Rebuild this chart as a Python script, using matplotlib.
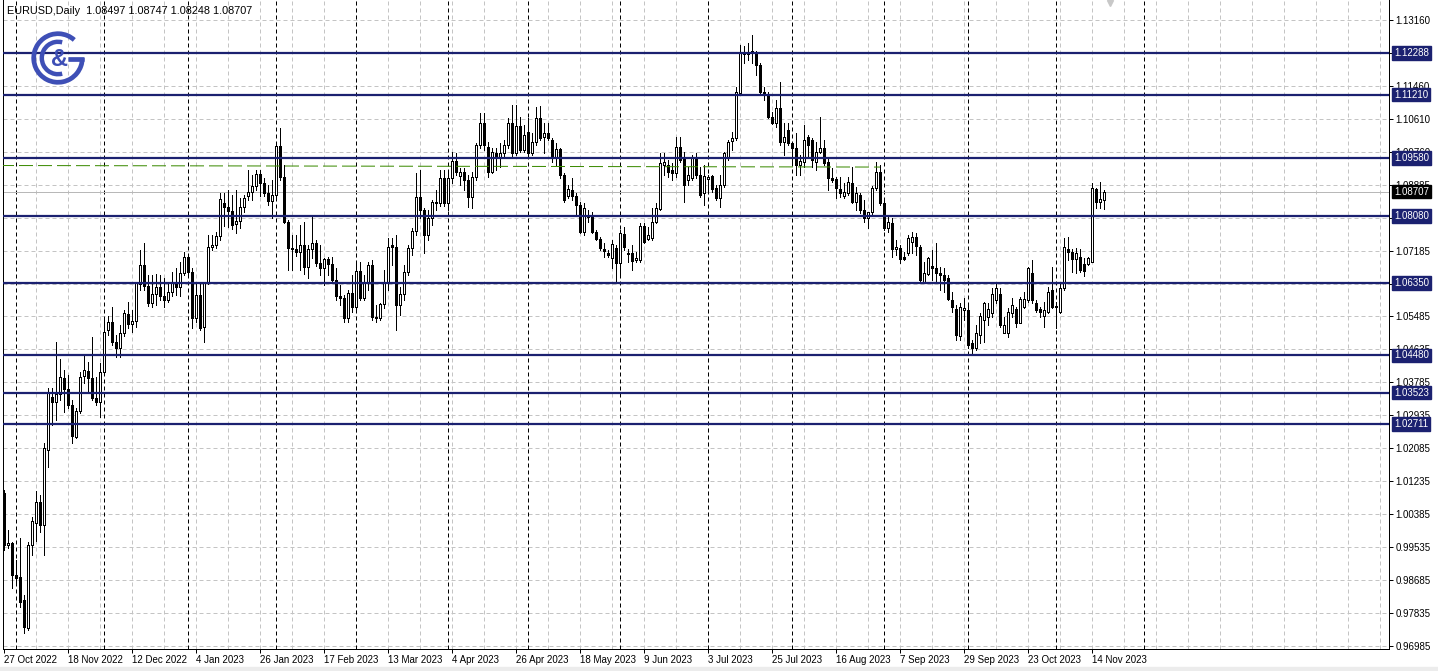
import numpy as np
import matplotlib
matplotlib.use('Agg')
import matplotlib.pyplot as plt
from matplotlib.patches import Arc, Rectangle
from matplotlib.transforms import blended_transform_factory

plt.rcParams['font.family'] = ['Liberation Sans', 'DejaVu Sans']

# EURUSD daily bars, 27 Oct 2022 .. 17 Nov 2023
opens = [
    1.0093, 0.9959, 0.9964, 0.9881, 0.9876, 0.9817, 0.9745, 0.9959, 1.0016, 1.0070,
    1.0011, 1.0204, 1.0341, 1.0328, 1.0348, 1.0390, 1.0361, 1.0320, 1.0237, 1.0305,
    1.0395, 1.0408, 1.0390, 1.0338, 1.0328, 1.0405, 1.0514, 1.0534, 1.0483, 1.0467,
    1.0506, 1.0555, 1.0529, 1.0537, 1.0632, 1.0681, 1.0627, 1.0583, 1.0606, 1.0625,
    1.0601, 1.0591, 1.0612, 1.0637, 1.0625, 1.0661, 1.0702, 1.0663, 1.0545, 1.0604,
    1.0521, 1.0635, 1.0728, 1.0733, 1.0756, 1.0841, 1.0831, 1.0821, 1.0787, 1.0795,
    1.0831, 1.0859, 1.0870, 1.0885, 1.0916, 1.0893, 1.0867, 1.0846, 1.0862, 1.0988,
    1.0908, 1.0792, 1.0725, 1.0723, 1.0715, 1.0733, 1.0676, 1.0723, 1.0738, 1.0686,
    1.0674, 1.0697, 1.0684, 1.0643, 1.0601, 1.0596, 1.0545, 1.0609, 1.0573, 1.0666,
    1.0596, 1.0637, 1.0681, 1.0547, 1.0545, 1.0581, 1.0637, 1.0733, 1.0728, 1.0578,
    1.0606, 1.0663, 1.0725, 1.0769, 1.0857, 1.0823, 1.0759, 1.0803, 1.0844, 1.0841,
    1.0906, 1.0841, 1.0906, 1.0950, 1.0911, 1.0921, 1.0901, 1.0857, 1.0908, 1.0991,
    1.1048, 1.0986, 1.0921, 1.0970, 1.0957, 1.0970, 1.0991, 1.1048, 1.0970, 1.1040,
    1.0978, 1.1024, 1.0970, 1.0999, 1.1061, 1.1012, 1.1022, 1.1004, 1.0957, 1.0981,
    1.0914, 1.0859, 1.0875, 1.0859, 1.0836, 1.0766, 1.0805, 1.0805, 1.0766, 1.0748,
    1.0723, 1.0712, 1.0699, 1.0725, 1.0686, 1.0761, 1.0712, 1.0712, 1.0694, 1.0694,
    1.0782, 1.0748, 1.0751, 1.0792, 1.0826, 1.0939, 1.0939, 1.0926, 1.0919, 1.0986,
    1.0957, 1.0901, 1.0906, 1.0960, 1.0914, 1.0867, 1.0903, 1.0911, 1.0880, 1.0854,
    1.0888, 1.0957, 1.1001, 1.1009, 1.1125, 1.1226, 1.1226, 1.1228, 1.1228, 1.1197,
    1.1128, 1.1122, 1.1063, 1.1048, 1.1086, 1.0999, 1.1030, 1.0996, 1.0983, 1.0939,
    1.0947, 1.1012, 1.1004, 1.0947, 1.0973, 1.0983, 1.0947, 1.0906, 1.0903, 1.0877,
    1.0859, 1.0867, 1.0893, 1.0844, 1.0862, 1.0823, 1.0803, 1.0818, 1.0880, 1.0921,
    1.0841, 1.0777, 1.0790, 1.0723, 1.0725, 1.0702, 1.0712, 1.0741, 1.0754, 1.0728,
    1.0635, 1.0658, 1.0679, 1.0674, 1.0661, 1.0656, 1.0648, 1.0591, 1.0568, 1.0498,
    1.0565, 1.0565, 1.0480, 1.0467, 1.0501, 1.0539, 1.0547, 1.0557, 1.0591, 1.0606,
    1.0506, 1.0506, 1.0557, 1.0568, 1.0532, 1.0573, 1.0591, 1.0661, 1.0583, 1.0568,
    1.0550, 1.0560, 1.0617, 1.0573, 1.0560, 1.0622, 1.0723, 1.0715, 1.0697, 1.0702,
    1.0684, 1.0684, 1.0689, 1.0877, 1.0844, 1.08497]
highs = [
    1.0101, 0.9998, 0.9967, 0.9920, 0.9977, 0.9830, 0.9967, 1.0031, 1.0098, 1.0088,
    1.0222, 1.0364, 1.0364, 1.0483, 1.0439, 1.0410, 1.0398, 1.0333, 1.0312, 1.0405,
    1.0449, 1.0431, 1.0496, 1.0392, 1.0428, 1.0545, 1.0550, 1.0573, 1.0501, 1.0526,
    1.0565, 1.0586, 1.0565, 1.0637, 1.0720, 1.0738, 1.0656, 1.0656, 1.0658, 1.0656,
    1.0648, 1.0635, 1.0663, 1.0674, 1.0689, 1.0715, 1.0707, 1.0674, 1.0635, 1.0637,
    1.0637, 1.0759, 1.0759, 1.0766, 1.0867, 1.0867, 1.0875, 1.0862, 1.0875, 1.0854,
    1.0862, 1.0926, 1.0914, 1.0926, 1.0926, 1.0906, 1.0888, 1.0901, 1.0996, 1.1035,
    1.0939, 1.0797, 1.0759, 1.0759, 1.0785, 1.0792, 1.0733, 1.0805, 1.0746, 1.0733,
    1.0699, 1.0702, 1.0702, 1.0674, 1.0630, 1.0604, 1.0617, 1.0656, 1.0689, 1.0689,
    1.0656, 1.0689, 1.0694, 1.0578, 1.0583, 1.0669, 1.0751, 1.0751, 1.0759, 1.0625,
    1.0681, 1.0733, 1.0777, 1.0919, 1.0926, 1.0828, 1.0823, 1.0849, 1.0875, 1.0926,
    1.0926, 1.0926, 1.0973, 1.0970, 1.0931, 1.0931, 1.0914, 1.0921, 1.0996, 1.1073,
    1.1073, 1.0999, 1.0983, 1.0983, 1.0996, 1.1004, 1.1061, 1.1094, 1.1094, 1.1063,
    1.1043, 1.1061, 1.1022, 1.1089, 1.1092, 1.1048, 1.1048, 1.1009, 1.0996, 1.0983,
    1.0919, 1.0888, 1.0906, 1.0867, 1.0844, 1.0841, 1.0823, 1.0818, 1.0772, 1.0754,
    1.0738, 1.0720, 1.0746, 1.0733, 1.0772, 1.0779, 1.0723, 1.0733, 1.0715, 1.0790,
    1.0790, 1.0779, 1.0828, 1.0841, 1.0970, 1.0970, 1.0952, 1.0944, 1.1012, 1.1012,
    1.0973, 1.0934, 1.0965, 1.0970, 1.0934, 1.0939, 1.0914, 1.0914, 1.0888, 1.0914,
    1.0973, 1.1004, 1.1024, 1.1141, 1.1249, 1.1246, 1.1254, 1.1275, 1.1233, 1.1202,
    1.1141, 1.1128, 1.1076, 1.1107, 1.1153, 1.1048, 1.1048, 1.0999, 1.1022, 1.0965,
    1.1043, 1.1017, 1.1009, 1.0999, 1.1063, 1.1004, 1.0957, 1.0931, 1.0908, 1.0908,
    1.0893, 1.0908, 1.0934, 1.0883, 1.0867, 1.0849, 1.0818, 1.0885, 1.0947, 1.0939,
    1.0849, 1.0805, 1.0803, 1.0746, 1.0733, 1.0715, 1.0759, 1.0766, 1.0764, 1.0733,
    1.0689, 1.0702, 1.0720, 1.0738, 1.0676, 1.0674, 1.0656, 1.0612, 1.0578, 1.0583,
    1.0596, 1.0578, 1.0488, 1.0526, 1.0557, 1.0586, 1.0583, 1.0622, 1.0637, 1.0622,
    1.0547, 1.0570, 1.0596, 1.0573, 1.0599, 1.0612, 1.0676, 1.0694, 1.0591, 1.0573,
    1.0586, 1.0625, 1.0676, 1.0586, 1.0637, 1.0751, 1.0754, 1.0723, 1.0725, 1.0723,
    1.0699, 1.0702, 1.0893, 1.0880, 1.0895, 1.08747]
lows = [
    0.9946, 0.9951, 0.9848, 0.9856, 0.9799, 0.9732, 0.9740, 0.9933, 0.9969, 0.9993,
    0.9933, 1.0160, 1.0268, 1.0281, 1.0333, 1.0302, 1.0312, 1.0222, 1.0235, 1.0300,
    1.0377, 1.0354, 1.0333, 1.0320, 1.0289, 1.0398, 1.0501, 1.0475, 1.0444, 1.0444,
    1.0498, 1.0519, 1.0508, 1.0521, 1.0617, 1.0617, 1.0576, 1.0573, 1.0578, 1.0591,
    1.0573, 1.0586, 1.0601, 1.0604, 1.0601, 1.0656, 1.0653, 1.0519, 1.0534, 1.0514,
    1.0483, 1.0632, 1.0720, 1.0725, 1.0746, 1.0782, 1.0779, 1.0774, 1.0764, 1.0777,
    1.0818, 1.0849, 1.0849, 1.0875, 1.0859, 1.0859, 1.0836, 1.0803, 1.0857, 1.0901,
    1.0790, 1.0669, 1.0669, 1.0705, 1.0669, 1.0658, 1.0648, 1.0699, 1.0679, 1.0656,
    1.0630, 1.0656, 1.0637, 1.0591, 1.0578, 1.0534, 1.0534, 1.0560, 1.0565, 1.0591,
    1.0591, 1.0617, 1.0539, 1.0534, 1.0539, 1.0570, 1.0617, 1.0681, 1.0514, 1.0552,
    1.0591, 1.0656, 1.0707, 1.0759, 1.0803, 1.0712, 1.0746, 1.0785, 1.0823, 1.0834,
    1.0834, 1.0823, 1.0893, 1.0914, 1.0888, 1.0875, 1.0831, 1.0828, 1.0901, 1.0983,
    1.0978, 1.0908, 1.0919, 1.0926, 1.0934, 1.0957, 1.0983, 1.0963, 1.0965, 1.0973,
    1.0973, 1.0965, 1.0965, 1.0991, 1.1004, 1.0970, 1.1004, 1.0947, 1.0939, 1.0906,
    1.0844, 1.0854, 1.0849, 1.0810, 1.0764, 1.0759, 1.0792, 1.0764, 1.0746, 1.0720,
    1.0702, 1.0702, 1.0674, 1.0635, 1.0656, 1.0720, 1.0689, 1.0669, 1.0689, 1.0689,
    1.0738, 1.0746, 1.0746, 1.0790, 1.0823, 1.0914, 1.0908, 1.0901, 1.0908, 1.0947,
    1.0844, 1.0888, 1.0901, 1.0906, 1.0857, 1.0836, 1.0867, 1.0870, 1.0849, 1.0831,
    1.0883, 1.0952, 1.0978, 1.1004, 1.1125, 1.1203, 1.1210, 1.1203, 1.1171, 1.1120,
    1.1107, 1.1061, 1.1045, 1.1037, 1.0991, 1.0965, 1.0991, 1.0944, 1.0914, 1.0914,
    1.0934, 1.0957, 1.0934, 1.0926, 1.0970, 1.0939, 1.0875, 1.0895, 1.0854, 1.0857,
    1.0854, 1.0862, 1.0841, 1.0823, 1.0815, 1.0792, 1.0777, 1.0810, 1.0875, 1.0836,
    1.0772, 1.0766, 1.0702, 1.0707, 1.0686, 1.0694, 1.0707, 1.0712, 1.0707, 1.0635,
    1.0635, 1.0656, 1.0643, 1.0635, 1.0617, 1.0612, 1.0591, 1.0560, 1.0488, 1.0488,
    1.0539, 1.0467, 1.0449, 1.0462, 1.0480, 1.0483, 1.0526, 1.0547, 1.0583, 1.0521,
    1.0506, 1.0496, 1.0547, 1.0521, 1.0532, 1.0570, 1.0586, 1.0583, 1.0560, 1.0547,
    1.0521, 1.0557, 1.0570, 1.0519, 1.0557, 1.0617, 1.0694, 1.0663, 1.0661, 1.0663,
    1.0653, 1.0681, 1.0689, 1.0828, 1.0828, 1.08248]
closes = [
    0.9959, 0.9964, 0.9881, 0.9874, 0.9812, 0.9747, 0.9959, 1.0021, 1.0070, 1.0011,
    1.0209, 1.0354, 1.0328, 1.0348, 1.0392, 1.0361, 1.0320, 1.0240, 1.0305, 1.0392,
    1.0410, 1.0390, 1.0338, 1.0328, 1.0405, 1.0508, 1.0534, 1.0483, 1.0467, 1.0506,
    1.0557, 1.0529, 1.0537, 1.0635, 1.0681, 1.0627, 1.0583, 1.0606, 1.0625, 1.0601,
    1.0591, 1.0612, 1.0637, 1.0625, 1.0661, 1.0702, 1.0663, 1.0545, 1.0604, 1.0519,
    1.0635, 1.0728, 1.0733, 1.0756, 1.0852, 1.0831, 1.0821, 1.0785, 1.0795, 1.0831,
    1.0854, 1.0870, 1.0885, 1.0916, 1.0893, 1.0867, 1.0846, 1.0862, 1.0988, 1.0908,
    1.0792, 1.0725, 1.0723, 1.0715, 1.0733, 1.0676, 1.0723, 1.0738, 1.0686, 1.0674,
    1.0697, 1.0684, 1.0643, 1.0601, 1.0596, 1.0545, 1.0609, 1.0573, 1.0666, 1.0596,
    1.0637, 1.0681, 1.0547, 1.0545, 1.0581, 1.0637, 1.0728, 1.0728, 1.0578, 1.0606,
    1.0663, 1.0725, 1.0769, 1.0857, 1.0823, 1.0759, 1.0803, 1.0844, 1.0841, 1.0906,
    1.0841, 1.0906, 1.0950, 1.0921, 1.0921, 1.0901, 1.0857, 1.0908, 1.0991, 1.1048,
    1.0991, 1.0921, 1.0973, 1.0957, 1.0970, 1.0991, 1.1048, 1.0970, 1.1040, 1.0978,
    1.1017, 1.0970, 1.0999, 1.1061, 1.1009, 1.1022, 1.1009, 1.0960, 1.0981, 1.0914,
    1.0849, 1.0877, 1.0859, 1.0836, 1.0766, 1.0828, 1.0810, 1.0766, 1.0748, 1.0725,
    1.0717, 1.0707, 1.0735, 1.0686, 1.0764, 1.0728, 1.0710, 1.0692, 1.0699, 1.0782,
    1.0741, 1.0759, 1.0792, 1.0828, 1.0944, 1.0947, 1.0921, 1.0919, 1.0986, 1.0952,
    1.0888, 1.0914, 1.0960, 1.0914, 1.0862, 1.0911, 1.0908, 1.0877, 1.0854, 1.0888,
    1.0970, 1.0999, 1.1009, 1.1128, 1.1228, 1.1231, 1.1231, 1.1233, 1.1197, 1.1128,
    1.1125, 1.1063, 1.1048, 1.1086, 1.0999, 1.1012, 1.0996, 1.0983, 1.0939, 1.0950,
    1.1004, 1.0991, 1.0952, 1.0973, 1.0983, 1.0944, 1.0906, 1.0901, 1.0880, 1.0867,
    1.0870, 1.0895, 1.0844, 1.0867, 1.0823, 1.0803, 1.0818, 1.0880, 1.0921, 1.0841,
    1.0777, 1.0792, 1.0723, 1.0728, 1.0697, 1.0697, 1.0751, 1.0754, 1.0730, 1.0643,
    1.0661, 1.0699, 1.0674, 1.0661, 1.0656, 1.0643, 1.0594, 1.0573, 1.0501, 1.0573,
    1.0570, 1.0475, 1.0467, 1.0506, 1.0550, 1.0583, 1.0568, 1.0606, 1.0622, 1.0526,
    1.0526, 1.0560, 1.0578, 1.0532, 1.0594, 1.0594, 1.0674, 1.0591, 1.0565, 1.0560,
    1.0565, 1.0612, 1.0573, 1.0575, 1.0622, 1.0728, 1.0715, 1.0697, 1.0712, 1.0669,
    1.0666, 1.0699, 1.0880, 1.0844, 1.0852, 1.08707]

date_labels = ['27 Oct 2022', '18 Nov 2022', '12 Dec 2022', '4 Jan 2023', '26 Jan 2023',
               '17 Feb 2023', '13 Mar 2023', '4 Apr 2023', '26 Apr 2023', '18 May 2023',
               '9 Jun 2023', '3 Jul 2023', '25 Jul 2023', '16 Aug 2023', '7 Sep 2023',
               '29 Sep 2023', '23 Oct 2023', '14 Nov 2023']
month_starts = [3, 25, 46, 68, 88, 111, 131, 154, 176, 197, 220, 241, 263, 285]

price_ticks = [0.96985, 0.97835, 0.98685, 0.99535, 1.00385, 1.01235, 1.02085, 1.02935,
               1.03785, 1.04635, 1.05485, 1.06335, 1.07185, 1.08035, 1.08885, 1.09735,
               1.10585, 1.11435, 1.12285, 1.13135]
price_tick_labels = ['0.96985', '0.97835', '0.98685', '0.99535', '1.00385', '1.01235',
                     '1.02085', '1.02935', '1.03785', '1.04635', '1.05485', '1.06335',
                     '1.07185', '1.08035', '1.08885', '1.09760', '1.10610', '1.11460',
                     '1.12310', '1.13160']

levels = [1.12288, 1.11210, 1.09580, 1.08080, 1.06350, 1.04480, 1.03523, 1.02711]
level_labels = ['1.12288', '1.11210', '1.09580', '1.08080', '1.06350', '1.04480',
                '1.03523', '1.02711']
bid_price = 1.08707
trend_bars = [-1, 219]
trend_prices = [1.0938, 1.0934]
header = 'EURUSD,Daily  1.08497 1.08747 1.08248 1.08707'

NAVY = '#1b2170'
LOGO = '#3e4fb6'
W, H = 1438, 671

o = np.array(opens)
c = np.array(closes)
h = np.maximum(np.array(highs), np.maximum(o, c))
l = np.minimum(np.array(lows), np.minimum(o, c))
idx = np.arange(len(o))
up = c >= o

fig = plt.figure(figsize=(W / 100, H / 100), dpi=100)
fig.patches.append(Rectangle((0, 0), 1, 4 / H, transform=fig.transFigure,
                             color='#ececec', zorder=0))
ax = fig.add_axes([3 / W, 22 / H, 1386 / W, 649 / H])
ax.set_xlim(-0.25, 346.25)
ax.set_ylim(0.96906, 1.1365)

# grid
for v in price_ticks:
    ax.axhline(v, color='#c4c4c4', lw=0.72, ls=(0, (4, 3)), zorder=0)
for x in range(8, 347, 8):
    ax.axvline(x, color='#c4c4c4', lw=0.72, ls=(0, (4, 3)), zorder=0)
for m in month_starts:
    ax.axvline(m, color='black', lw=0.72, ls=(0, (4, 3)), zorder=0.5)

# bid line and trend line
ax.axhline(bid_price, color='#b8b8b8', lw=0.72, zorder=1)
ax.plot(trend_bars, trend_prices, color='#3a8a00', lw=0.72, ls=(0, (14, 5)), zorder=4)

# candles
ax.vlines(idx, l, h, color='black', lw=0.72, zorder=2, antialiased=False)
ax.bar(idx, np.abs(c - o), bottom=np.minimum(o, c), width=0.5,
       color=np.where(up, 'white', 'black'), edgecolor='black', linewidth=0.72,
       zorder=3, antialiased=False)

# horizontal levels
for v in levels:
    ax.axhline(v, color=NAVY, lw=1.6, zorder=4)

# axes styling
ax.spines['top'].set_visible(False)
for s in ['left', 'bottom', 'right']:
    ax.spines[s].set_linewidth(0.72)
ax.yaxis.tick_right()
ax.set_yticks(price_ticks)
ax.set_yticklabels(price_tick_labels)
ax.set_xticks(np.arange(len(date_labels)) * 16)
ax.set_xticklabels(date_labels, ha='left')
ax.tick_params(axis='y', length=3, width=0.72, pad=1.5, labelsize=7)
ax.tick_params(axis='x', length=3, width=0.72, pad=1.5, labelsize=7)

trans = blended_transform_factory(ax.transAxes, ax.transData)
for v, s in zip(levels, level_labels):
    ax.text(1.0 + 5 / 1386, v, s, transform=trans, ha='left', va='center', fontsize=7,
            color='white', zorder=6, clip_on=False,
            bbox=dict(boxstyle='square,pad=0.18', fc=NAVY, ec=NAVY))
ax.text(1.0 + 5 / 1386, bid_price, '1.08707', transform=trans, ha='left', va='center',
        fontsize=7, color='white', zorder=6, clip_on=False,
        bbox=dict(boxstyle='square,pad=0.18', fc='black', ec='black'))

# chart shift marker
ax.plot([276.5], [1.1358], marker='v', color='#c8c8c8', ms=5, clip_on=False, zorder=5)

fig.text(7 / W, 1 - 11 / H, header, fontsize=7.8, ha='left', va='center')

# logo
lax = fig.add_axes([31 / W, (H - 85) / H, 54 / W, 54 / H])
lax.set_xlim(-1, 1)
lax.set_ylim(-1, 1)
lax.set_aspect('equal')
lax.axis('off')
lax.add_patch(Arc((0, 0), 1.8, 1.8, theta1=48, theta2=360, lw=3.4, color=LOGO))
lax.plot([0.36, 0.95], [-0.04, -0.04], color=LOGO, lw=3.4, solid_capstyle='butt')
lax.add_patch(Arc((0, 0), 1.2, 1.2, theta1=75, theta2=285, lw=3.2, color=LOGO))
lax.text(0.04, -0.06, '&', fontsize=17, fontweight='bold', ha='center', va='center',
         color=LOGO)

fig.savefig('out.png', dpi=100)
